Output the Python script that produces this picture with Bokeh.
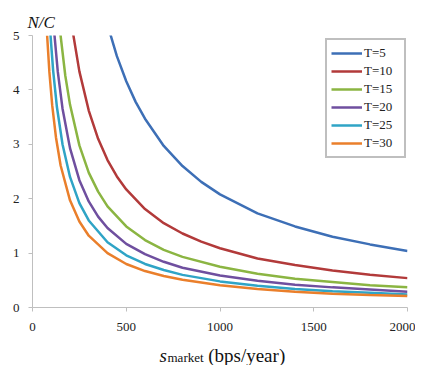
from bokeh.plotting import figure
from bokeh.models import Range1d, Legend, LegendItem, FixedTicker
from bokeh.layouts import column
from bokeh.core.properties import value
from bokeh.embed import file_html
from bokeh.resources import INLINE

series_labels = ["T=5", "T=10", "T=15", "T=20", "T=25", "T=30"]
colors = ["#3d6fb6", "#b23a3a", "#8bb542", "#6f4f9f", "#2fa4c6", "#ea7f2b"]

s_T5 = [400, 450, 500, 550, 600, 700, 800, 900, 1000, 1200, 1400, 1600, 1800, 2000]
nc_T5 = [5.20, 4.62, 4.16, 3.78, 3.47, 2.97, 2.60, 2.31, 2.08, 1.73, 1.49, 1.30, 1.16, 1.04]

s_T10 = [210, 250, 300, 350, 400, 450, 500, 600, 700, 800, 900, 1000, 1200, 1400, 1600, 1800, 2000]
nc_T10 = [5.17, 4.34, 3.62, 3.10, 2.71, 2.41, 2.17, 1.81, 1.55, 1.36, 1.21, 1.09, 0.90, 0.78, 0.68, 0.60, 0.54]

s_T15 = [145, 175, 200, 250, 300, 350, 400, 500, 600, 700, 800, 1000, 1200, 1400, 1600, 1800, 2000]
nc_T15 = [5.14, 4.26, 3.73, 2.98, 2.48, 2.13, 1.86, 1.49, 1.24, 1.06, 0.93, 0.75, 0.62, 0.53, 0.47, 0.41, 0.37]

s_T20 = [115, 135, 160, 200, 250, 300, 350, 400, 500, 600, 700, 800, 1000, 1200, 1400, 1600, 1800, 2000]
nc_T20 = [5.09, 4.33, 3.66, 2.93, 2.34, 1.95, 1.67, 1.46, 1.17, 0.98, 0.84, 0.73, 0.59, 0.49, 0.42, 0.37, 0.33, 0.29]

s_T25 = [95, 110, 130, 160, 200, 250, 300, 400, 500, 600, 700, 800, 1000, 1200, 1400, 1600, 1800, 2000]
nc_T25 = [5.05, 4.36, 3.69, 3.00, 2.40, 1.92, 1.60, 1.20, 0.96, 0.80, 0.69, 0.60, 0.48, 0.40, 0.34, 0.30, 0.27, 0.24]

s_T30 = [78, 90, 105, 125, 150, 200, 250, 300, 400, 500, 600, 700, 800, 1000, 1200, 1400, 1600, 1800, 2000]
nc_T30 = [5.00, 4.33, 3.72, 3.13, 2.61, 1.97, 1.58, 1.32, 1.00, 0.80, 0.67, 0.58, 0.51, 0.41, 0.34, 0.29, 0.255, 0.23, 0.21]

x_ticks = [0, 500, 1000, 1500, 2000]
y_ticks = [0, 1, 2, 3, 4, 5]

y_title = "N/C"
x_title_parts = ["s", "market", "(bps/year)"]

xs = [s_T5, s_T10, s_T15, s_T20, s_T25, s_T30]
ys = [nc_T5, nc_T10, nc_T15, nc_T20, nc_T25, nc_T30]

SERIF = "Times New Roman"

p = figure(width=415, height=338, output_backend="svg", toolbar_location=None,
           x_range=Range1d(0, 2000), y_range=Range1d(0, 5),
           min_border_left=32, min_border_right=8, min_border_top=35, min_border_bottom=31,
           title=y_title)
p.title.text_font = SERIF
p.title.text_font_size = "17px"
p.title.text_font_style = "italic"
p.title.text_color = "#111111"
p.title.align = "left"
p.title.offset = -5
p.title.standoff = 8
p.outline_line_color = None
p.xgrid.visible = False
p.ygrid.visible = False
p.background_fill_color = "white"

for ax in (p.xaxis[0], p.yaxis[0]):
    ax.axis_line_color = "#bfbfbf"
    ax.major_tick_line_color = "#bfbfbf"
    ax.minor_tick_line_color = None
    ax.major_tick_in = 0
    ax.major_tick_out = 4
    ax.major_label_text_font = SERIF
    ax.major_label_text_font_size = "13px"
    ax.major_label_text_color = "#222222"
p.xaxis[0].ticker = FixedTicker(ticks=x_ticks)
p.yaxis[0].ticker = FixedTicker(ticks=y_ticks)
p.xaxis[0].major_label_standoff = 11
p.yaxis[0].major_label_standoff = 9

items = []
for lab, c, x, y in zip(series_labels, colors, xs, ys):
    r = p.line(x, y, line_color=c, line_width=2.5)
    items.append(LegendItem(label=lab, renderers=[r]))

legend = Legend(items=items, location=(293, 149), orientation="vertical",
                label_text_font=SERIF, label_text_font_size="13px", label_text_color="#222222",
                glyph_width=31, glyph_height=18, label_height=18, label_width=36,
                label_standoff=2, spacing=0, padding=4, margin=0,
                border_line_color="#808080", border_line_width=2,
                background_fill_color="white")
p.add_layout(legend)

# x-axis title in a thin strip below the chart (frames are aligned, so it shares the x scale)
q = figure(width=415, height=27, output_backend="svg", toolbar_location=None,
           x_range=Range1d(0, 2000), y_range=Range1d(0, 27),
           min_border_left=32, min_border_right=8, min_border_top=0, min_border_bottom=0)
q.axis.visible = False
q.grid.visible = False
q.outline_line_color = None
q.text(x=[677], y=[10], text=[x_title_parts[0]], text_font=value(SERIF), text_font_size="19px",
       text_font_style="italic", text_color="#111111", text_baseline="alphabetic")
q.text(x=[720], y=[8], text=[x_title_parts[1]], text_font=value(SERIF), text_font_size="13px",
       text_color="#111111", text_baseline="alphabetic")
q.text(x=[937], y=[10], text=[x_title_parts[2]], text_font=value(SERIF), text_font_size="19px",
       text_color="#111111", text_baseline="alphabetic")

layout = column(p, q, spacing=0)
open("out.html", "w").write(file_html(layout, INLINE))
